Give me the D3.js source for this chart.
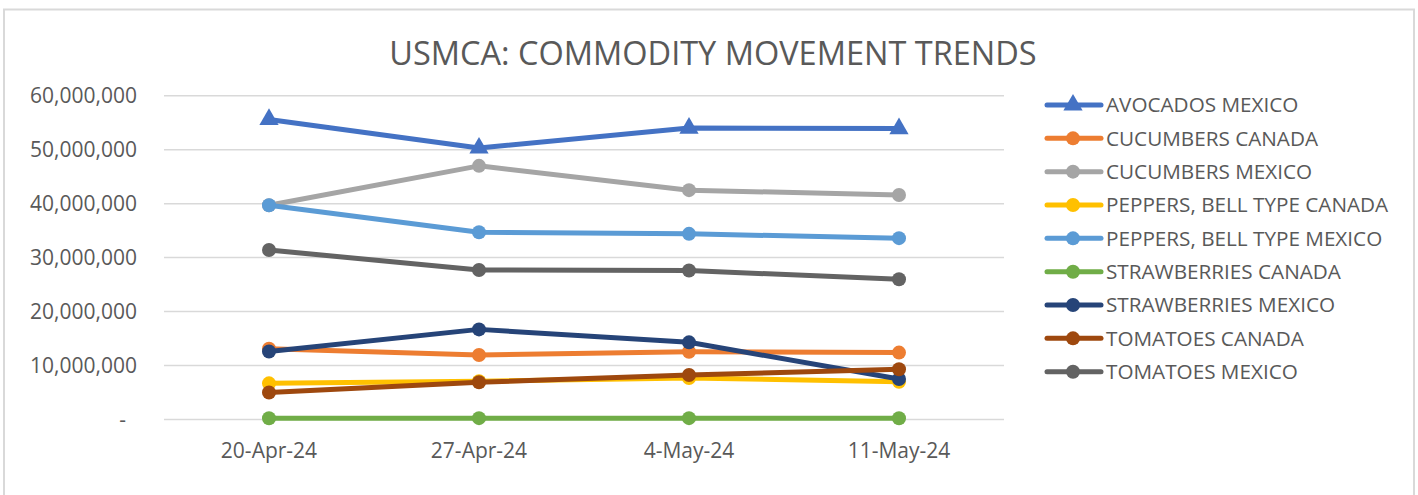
<!DOCTYPE html>
<html>
<head>
<meta charset="utf-8">
<script src="https://cdn.jsdelivr.net/npm/d3@7"></script>
<style>
  body { margin: 0; background: #fff; }
  svg { display: block; font-family: "Open Sans", sans-serif; }
</style>
</head>
<body>
<div id="chart"></div>
<script>
// data
const weeks = ["20-Apr-24", "27-Apr-24", "4-May-24", "11-May-24"];
const seriesNames = [
  "AVOCADOS MEXICO", "CUCUMBERS CANADA", "CUCUMBERS MEXICO",
  "PEPPERS, BELL TYPE CANADA", "PEPPERS, BELL TYPE MEXICO",
  "STRAWBERRIES CANADA", "STRAWBERRIES MEXICO",
  "TOMATOES CANADA", "TOMATOES MEXICO"
];
const avocadosMexico     = [55600000, 50300000, 54000000, 53900000];
const cucumbersCanada    = [13100000, 11950000, 12550000, 12400000];
const cucumbersMexico    = [39700000, 47000000, 42500000, 41600000];
const peppersCanada      = [6700000, 7100000, 7700000, 7000000];
const peppersMexico      = [39700000, 34700000, 34400000, 33600000];
const strawberriesCanada = [220000, 250000, 250000, 220000];
const strawberriesMexico = [12600000, 16700000, 14300000, 7500000];
const tomatoesCanada     = [5000000, 6900000, 8250000, 9300000];
const tomatoesMexico     = [31400000, 27700000, 27600000, 26000000];
const yTicks = [0, 10000000, 20000000, 30000000, 40000000, 50000000, 60000000];

const seriesValues = [
  avocadosMexico, cucumbersCanada, cucumbersMexico, peppersCanada,
  peppersMexico, strawberriesCanada, strawberriesMexico, tomatoesCanada, tomatoesMexico
];
const colors = ["#4472C4", "#ED7D31", "#A5A5A5", "#FFC000", "#5B9BD5",
                "#70AD47", "#264478", "#9E480E", "#636363"];

const series = seriesNames.map((name, i) => ({
  name: name,
  color: colors[i],
  triangle: i === 0,
  values: seriesValues[i].map((v, j) => ({ week: weeks[j], value: v }))
}));

const width = 1418, height = 495;
const textColor = "#595959";

const svg = d3.select("#chart")
  .append("svg")
  .attr("width", width)
  .attr("height", height);

// chart border
svg.append("rect")
  .attr("x", 4).attr("y", 9.5)
  .attr("width", 1410).attr("height", 500)
  .attr("fill", "none")
  .attr("stroke", "#d9d9d9")
  .attr("stroke-width", 2);

svg.append("text")
  .attr("x", 713).attr("y", 65)
  .attr("text-anchor", "middle")
  .attr("fill", textColor)
  .style("font-size", "32.5px")
  .text("USMCA: COMMODITY MOVEMENT TRENDS");

const xScale = d3.scaleBand()
  .domain(weeks)
  .range([164, 1004])
  .padding(0);

const yScale = d3.scaleLinear()
  .domain([0, 60000000])
  .range([419.5, 95.7]);

const xPos = d => xScale(d) + xScale.bandwidth() / 2;

// gridlines
svg.append("g")
  .selectAll("line")
  .data(yTicks)
  .join("line")
  .attr("x1", 164).attr("x2", 1004)
  .attr("y1", d => yScale(d)).attr("y2", d => yScale(d))
  .attr("stroke", "#d9d9d9")
  .attr("stroke-width", 1.5);

// y axis labels
const fmt = d3.format(",");
svg.append("g")
  .selectAll("text")
  .data(yTicks)
  .join("text")
  .attr("x", d => d === 0 ? 126 : 137)
  .attr("y", d => yScale(d))
  .attr("dy", "0.35em")
  .attr("text-anchor", "end")
  .attr("fill", textColor)
  .style("font-size", "21px")
  .text(d => d === 0 ? "-" : fmt(d));

// x axis labels
svg.append("g")
  .selectAll("text")
  .data(weeks)
  .join("text")
  .attr("x", d => xPos(d))
  .attr("y", 458)
  .attr("text-anchor", "middle")
  .attr("fill", textColor)
  .style("font-size", "21px")
  .text(d => d);

const line = d3.line()
  .x(d => xPos(d.week))
  .y(d => yScale(d.value));

const triangle = d3.symbol().type(d3.symbolTriangle).size(160);

const groups = svg.append("g")
  .selectAll("g")
  .data(series)
  .join("g");

groups.append("path")
  .attr("d", d => line(d.values))
  .attr("fill", "none")
  .attr("stroke", d => d.color)
  .attr("stroke-width", 5)
  .attr("stroke-linejoin", "round");

groups.each(function(s) {
  const g = d3.select(this);
  if (s.triangle) {
    g.selectAll("path.marker")
      .data(s.values)
      .join("path")
      .attr("class", "marker")
      .attr("transform", d => `translate(${xPos(d.week)},${yScale(d.value)})`)
      .attr("d", triangle)
      .attr("fill", s.color);
  } else {
    g.selectAll("circle")
      .data(s.values)
      .join("circle")
      .attr("cx", d => xPos(d.week))
      .attr("cy", d => yScale(d.value))
      .attr("r", 7)
      .attr("fill", s.color);
  }
});

// legend
const legendY = d3.scalePoint()
  .domain(seriesNames)
  .range([105, 371.7]);

const legend = svg.append("g")
  .selectAll("g")
  .data(series)
  .join("g")
  .attr("transform", d => `translate(0,${legendY(d.name)})`);

legend.append("line")
  .attr("x1", 1047).attr("x2", 1101)
  .attr("stroke", d => d.color)
  .attr("stroke-width", 5)
  .attr("stroke-linecap", "round");

legend.filter(d => !d.triangle)
  .append("circle")
  .attr("cx", 1073)
  .attr("r", 7)
  .attr("fill", d => d.color);

legend.filter(d => d.triangle)
  .append("path")
  .attr("transform", "translate(1073,0)")
  .attr("d", triangle)
  .attr("fill", d => d.color);

legend.append("text")
  .attr("x", 1106)
  .attr("dy", "0.35em")
  .attr("fill", textColor)
  .style("font-size", "20.7px")
  .text(d => d.name);
</script>
</body>
</html>
